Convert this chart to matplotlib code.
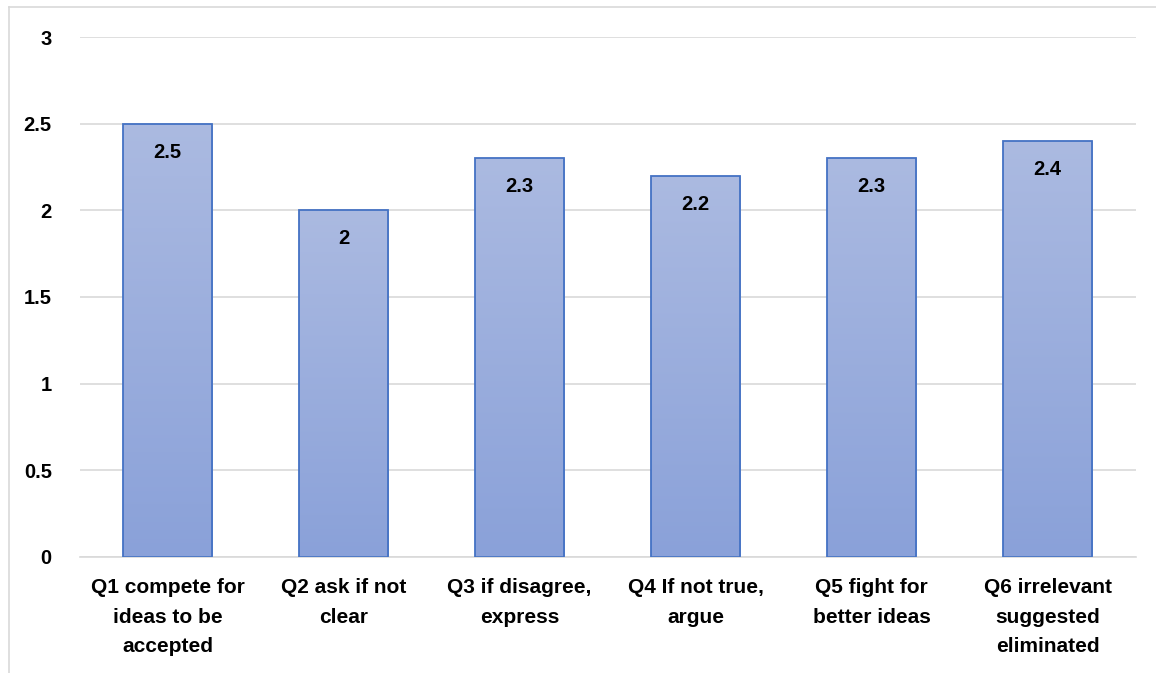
import numpy as np
import matplotlib.pyplot as plt
from matplotlib.colors import LinearSegmentedColormap
from matplotlib.lines import Line2D

categories = ["Q1 compete for\nideas to be\naccepted", "Q2 ask if not\nclear",
              "Q3 if disagree,\nexpress", "Q4 If not true,\nargue",
              "Q5 fight for\nbetter ideas", "Q6 irrelevant\nsuggested\neliminated"]
values = [2.5, 2.0, 2.3, 2.2, 2.3, 2.4]
value_labels = ["2.5", "2", "2.3", "2.2", "2.3", "2.4"]
yticks = [0, 0.5, 1, 1.5, 2, 2.5, 3]
ytick_labels = ["0", "0.5", "1", "1.5", "2", "2.5", "3"]

plt.rcParams['font.family'] = ['Liberation Sans', 'DejaVu Sans']

fig = plt.figure(figsize=(11.56, 6.73), dpi=100)
ax = fig.add_axes([0.0688, 0.1724, 0.9135, 0.7726])

# frame of the chart area (cropped)
fig.add_artist(Line2D([9 / 1156, 1], [1 - 7 / 673, 1 - 7 / 673], color="#d9d9d9", lw=1.2))
fig.add_artist(Line2D([9 / 1156, 9 / 1156], [0, 1 - 7 / 673], color="#d9d9d9", lw=1.2))

x = np.arange(len(values))
width = 0.506
cmap = LinearSegmentedColormap.from_list("g", ["#8aa1d9", "#abbae1"])
grad = np.linspace(0, 1, 256).reshape(-1, 1)

bars = ax.bar(x, values, width=width, color="none", edgecolor="#4472c4", linewidth=1.3, zorder=3)
for b, v, lab in zip(bars, values, value_labels):
    bx = b.get_x()
    im = ax.imshow(grad, cmap=cmap, origin="lower", aspect="auto",
                   extent=[bx, bx + b.get_width(), 0, v], zorder=2)
    im.set_clip_path(b)
    ax.text(bx + b.get_width() / 2, v - 0.165, lab, ha="center", va="center",
            fontsize=14.5, fontweight="bold", color="black", zorder=4)

ax.set_xlim(-0.5, len(values) - 0.5)
ax.set_ylim(0, 3)
ax.set_yticks(yticks)
ax.set_yticklabels(ytick_labels, fontsize=14.5, fontweight="bold")
ax.set_xticks(x)
ax.set_xticklabels(categories, fontsize=15, fontweight="bold", linespacing=1.72)
ax.tick_params(axis="both", length=0)
ax.tick_params(axis="y", pad=20)
ax.tick_params(axis="x", pad=15)
ax.grid(axis="y", color="#d9d9d9", lw=1.2, zorder=0)
ax.set_axisbelow(True)
for s in ["top", "right", "left"]:
    ax.spines[s].set_visible(False)
ax.spines["bottom"].set_color("#d9d9d9")
ax.spines["bottom"].set_linewidth(1.2)

fig.savefig("out.png", dpi=100)
